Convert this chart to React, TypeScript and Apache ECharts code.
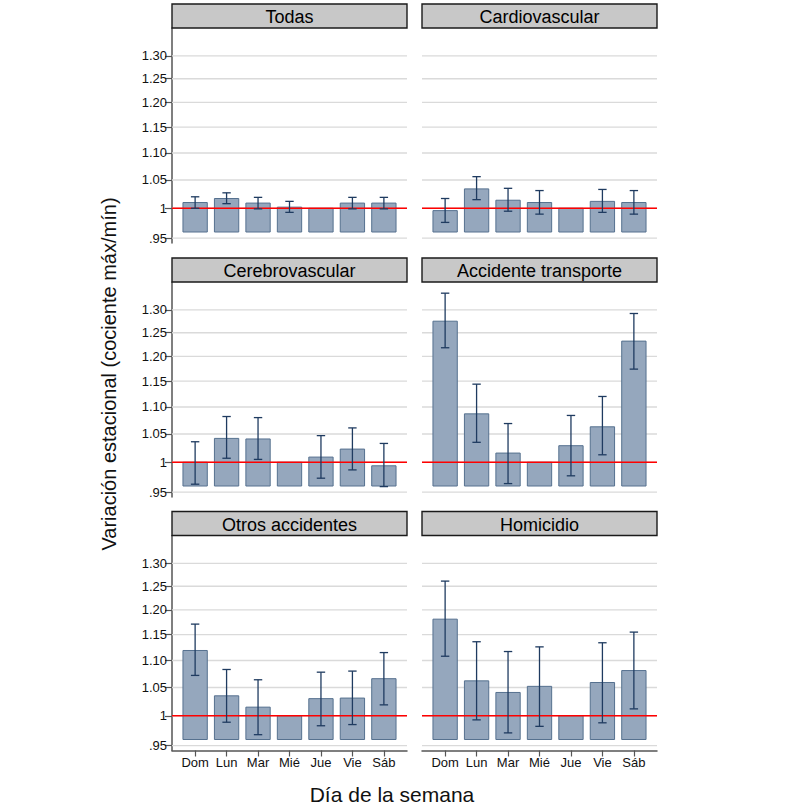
import React, { useEffect, useRef } from "react";
import * as echarts from "echarts";

const DAYS = ["Dom", "Lun", "Mar", "Mié", "Jue", "Vie", "Sáb"];
const PANEL_NAMES = [
  "Todas",
  "Cardiovascular",
  "Cerebrovascular",
  "Accidente transporte",
  "Otros accidentes",
  "Homicidio",
];

// ratio values per panel (Dom..Sáb)
const todasVal = [1.01, 1.017, 1.009, 1.002, 1.0, 1.009, 1.009];
const todasLo = [1.0, 1.008, 0.999, 0.993, null, 0.999, 0.999];
const todasHi = [1.02, 1.027, 1.019, 1.012, null, 1.019, 1.019];

const cardioVal = [0.996, 1.034, 1.014, 1.01, 1.0, 1.012, 1.01];
const cardioLo = [0.976, 1.015, 0.995, 0.99, null, 0.993, 0.99];
const cardioHi = [1.017, 1.056, 1.035, 1.031, null, 1.033, 1.031];

const cerebroVal = [1.0, 1.042, 1.041, 1.0, 1.009, 1.023, 0.994];
const cerebroLo = [0.963, 1.007, 1.005, null, 0.973, 0.987, 0.959];
const cerebroHi = [1.036, 1.082, 1.08, null, 1.047, 1.061, 1.033];

const transVal = [1.275, 1.087, 1.016, 1.0, 1.029, 1.063, 1.232];
const transLo = [1.218, 1.035, 0.964, null, 0.977, 1.013, 1.174];
const transHi = [1.338, 1.144, 1.069, null, 1.084, 1.12, 1.292];

const otrosVal = [1.119, 1.035, 1.015, 1.0, 1.03, 1.031, 1.066];
const otrosLo = [1.072, 0.989, 0.968, null, 0.983, 0.985, 1.019];
const otrosHi = [1.171, 1.083, 1.064, null, 1.078, 1.08, 1.115];

const homiVal = [1.181, 1.062, 1.041, 1.052, 1.0, 1.059, 1.081];
const homiLo = [1.108, 0.993, 0.971, 0.982, null, 0.988, 1.012];
const homiHi = [1.261, 1.136, 1.117, 1.126, null, 1.134, 1.155];

const Y_TICKS = [0.95, 1, 1.05, 1.1, 1.15, 1.2, 1.25, 1.3];
const Y_TICK_LABELS = [".95", "1", "1.05", "1.10", "1.15", "1.20", "1.25", "1.30"];
const REF_VALUE = 1;
const BAR_BASE = 0.96;
const Y_RANGE = [0.942, 1.364];

const PANELS = [
  { val: todasVal, lo: todasLo, hi: todasHi },
  { val: cardioVal, lo: cardioLo, hi: cardioHi },
  { val: cerebroVal, lo: cerebroLo, hi: cerebroHi },
  { val: transVal, lo: transLo, hi: transHi },
  { val: otrosVal, lo: otrosLo, hi: otrosHi },
  { val: homiVal, lo: homiLo, hi: homiHi },
];

// layout
const COL_LEFT = [172, 422];
const COL_W = 235;
const ROW_TOP = [4, 258, 511.5];
const HEADER_H = 24;
const PLOT_H = 215;
const X_MIN = -0.735;
const X_MAX = 6.735;
const BAR_W = 0.773;
const FONT = '"Liberation Sans", Arial, Helvetica, sans-serif';

const ln = (v: number) => Math.log(v);

function buildOption() {
  const grids: any[] = [];
  const xAxes: any[] = [];
  const yAxes: any[] = [];
  const series: any[] = [];
  const graphics: any[] = [];
  const dayIdx = DAYS.map((_, i) => i);
  const yTickLn = Y_TICKS.map(ln);

  PANELS.forEach((p, k) => {
    const row = Math.floor(k / 2);
    const col = k % 2;
    const isBottom = row === 2;
    const isLeft = col === 0;
    grids.push({
      left: COL_LEFT[col],
      top: ROW_TOP[row] + HEADER_H,
      width: COL_W,
      height: PLOT_H,
      containLabel: false,
    });
    xAxes.push({
      type: "value",
      gridIndex: k,
      min: X_MIN,
      max: X_MAX,
      show: isBottom,
      splitLine: { show: false },
      axisLine: { show: true, onZero: false, lineStyle: { color: "#555", width: 1.5 } },
      axisTick: {
        show: true,
        length: 6,
        customValues: dayIdx,
        lineStyle: { color: "#555", width: 1.2 },
      },
      axisLabel: {
        show: true,
        customValues: dayIdx,
        margin: 5,
        fontSize: 13,
        color: "#111",
        fontFamily: FONT,
        formatter: (v: number) => DAYS[Math.round(v)] ?? "",
      },
    });
    yAxes.push({
      type: "value",
      gridIndex: k,
      min: ln(Y_RANGE[0]),
      max: ln(Y_RANGE[1]),
      show: isLeft,
      splitLine: { show: false },
      axisLine: { show: true, onZero: false, lineStyle: { color: "#555", width: 1.5 } },
      axisTick: {
        show: true,
        length: 7,
        customValues: yTickLn,
        lineStyle: { color: "#555", width: 1.2 },
      },
      axisLabel: {
        show: true,
        customValues: yTickLn,
        margin: 5,
        fontSize: 13,
        color: "#111",
        fontFamily: FONT,
        formatter: (v: number) => {
          let best = 0;
          yTickLn.forEach((t, i) => {
            if (Math.abs(t - v) < Math.abs(yTickLn[best] - v)) best = i;
          });
          return Y_TICK_LABELS[best];
        },
      },
    });

    // gridlines
    series.push({
      type: "custom",
      xAxisIndex: k,
      yAxisIndex: k,
      z: 1,
      silent: true,
      encode: { x: 0, y: 1 },
      data: yTickLn.map((t) => [0, t]),
      renderItem: (params: any, api: any) => {
        const cs = params.coordSys;
        const y = api.coord([0, api.value(1)])[1];
        return {
          type: "line",
          shape: { x1: cs.x, y1: y, x2: cs.x + cs.width, y2: y },
          style: { stroke: "#dadada", lineWidth: 1.4 },
        };
      },
    });

    // bars
    series.push({
      type: "custom",
      xAxisIndex: k,
      yAxisIndex: k,
      z: 2,
      encode: { x: 0, y: 1 },
      data: p.val.map((v, i) => [i, ln(v)]),
      renderItem: (params: any, api: any) => {
        const x = api.value(0);
        const top = api.coord([x, api.value(1)]);
        const base = api.coord([x, ln(BAR_BASE)]);
        const w = api.size([BAR_W, 0])[0];
        return {
          type: "rect",
          shape: { x: top[0] - w / 2, y: top[1], width: w, height: base[1] - top[1] },
          style: { fill: "#95a7bd", stroke: "#56718f", lineWidth: 1 },
        };
      },
    });

    // reference line
    series.push({
      type: "custom",
      xAxisIndex: k,
      yAxisIndex: k,
      z: 3,
      silent: true,
      encode: { x: 0, y: 1 },
      data: [[0, ln(REF_VALUE)]],
      renderItem: (params: any, api: any) => {
        const cs = params.coordSys;
        const y = api.coord([0, api.value(1)])[1];
        return {
          type: "line",
          shape: { x1: cs.x, y1: y, x2: cs.x + cs.width, y2: y },
          style: { stroke: "#ff0000", lineWidth: 1.5 },
        };
      },
    });

    // error bars
    const errData: any[] = [];
    p.val.forEach((_, i) => {
      const lo = p.lo[i];
      const hi = p.hi[i];
      if (lo != null && hi != null) errData.push([i, ln(lo), ln(hi)]);
    });
    series.push({
      type: "custom",
      xAxisIndex: k,
      yAxisIndex: k,
      z: 4,
      encode: { x: 0, y: [1, 2] },
      data: errData,
      renderItem: (params: any, api: any) => {
        const x = api.value(0);
        const a = api.coord([x, api.value(1)]);
        const b = api.coord([x, api.value(2)]);
        const hw = 4.2;
        const st = { stroke: "#1f3b60", lineWidth: 1.3 };
        return {
          type: "group",
          children: [
            { type: "line", shape: { x1: a[0], y1: a[1], x2: b[0], y2: b[1] }, style: st },
            { type: "line", shape: { x1: a[0] - hw, y1: a[1], x2: a[0] + hw, y2: a[1] }, style: st },
            { type: "line", shape: { x1: b[0] - hw, y1: b[1], x2: b[0] + hw, y2: b[1] }, style: st },
          ],
        };
      },
    });

    // header strip
    graphics.push({
      type: "rect",
      shape: { x: COL_LEFT[col], y: ROW_TOP[row], width: COL_W, height: HEADER_H },
      style: { fill: "#c8c8c8", stroke: "#1a1a1a", lineWidth: 1.4 },
      z: 10,
    });
    graphics.push({
      type: "text",
      x: COL_LEFT[col] + COL_W / 2,
      y: ROW_TOP[row] + HEADER_H / 2 + 1,
      z: 11,
      style: {
        text: PANEL_NAMES[k],
        fill: "#000",
        font: `18px ${FONT}`,
        textAlign: "center",
        textVerticalAlign: "middle",
        align: "center",
        verticalAlign: "middle",
      },
    });
  });

  graphics.push({
    type: "text",
    x: 109,
    y: 374,
    rotation: Math.PI / 2,
    z: 11,
    style: {
      text: "Variación estacional (cociente máx/mín)",
      fill: "#111",
      font: `20px ${FONT}`,
      textAlign: "center",
      textVerticalAlign: "middle",
      align: "center",
      verticalAlign: "middle",
    },
  });
  graphics.push({
    type: "text",
    x: 392,
    y: 794,
    z: 11,
    style: {
      text: "Día de la semana",
      fill: "#111",
      font: `21px ${FONT}`,
      textAlign: "center",
      textVerticalAlign: "middle",
      align: "center",
      verticalAlign: "middle",
    },
  });

  return {
    animation: false,
    backgroundColor: "#ffffff",
    textStyle: { fontFamily: FONT },
    grid: grids,
    xAxis: xAxes,
    yAxis: yAxes,
    series,
    graphic: graphics,
  };
}

export default function App() {
  const ref = useRef<HTMLDivElement>(null);
  useEffect(() => {
    if (!ref.current) return;
    const chart = echarts.init(ref.current, undefined, { renderer: "svg" });
    chart.setOption(buildOption() as any);
    return () => chart.dispose();
  }, []);
  return (
    <div
      ref={ref}
      style={{ position: "fixed", left: 0, top: 0, width: 792, height: 805, background: "#fff" }}
    />
  );
}
